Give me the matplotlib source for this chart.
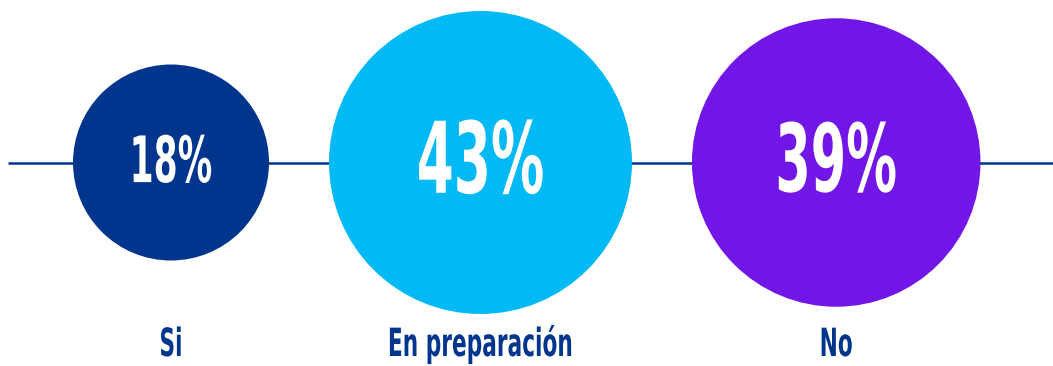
import numpy as np
import matplotlib
matplotlib.use("Agg")
import matplotlib.pyplot as plt
from matplotlib.patches import Circle
from matplotlib import font_manager, patheffects
from matplotlib.transforms import Affine2D

# survey answers
categories = ["Si", "En preparación", "No"]
values = [18, 43, 39]
colors = ["#00358E", "#00B9F5", "#7216E8"]
navy = "#00358E"


class Squeeze(patheffects.AbstractPathEffect):
    """Narrow the glyphs horizontally around a fixed x (display pixels)."""

    def __init__(self, sx, x0):
        super().__init__()
        self.sx = sx
        self.x0 = x0

    def draw_path(self, renderer, gc, tpath, affine, rgbFace=None):
        t = affine + Affine2D().translate(-self.x0, 0).scale(self.sx, 1).translate(self.x0, 0)
        renderer.draw_path(gc, tpath, t, rgbFace)


# pick the narrowest family that is installed
installed = {f.name for f in font_manager.fontManager.ttflist}
family = "DejaVu Sans"
for cand in ["Liberation Sans Narrow", "DejaVu Sans"]:
    if cand in installed:
        family = cand
        break

W, H = 1053, 366
fig = plt.figure(figsize=(W / 100, H / 100), dpi=100)
ax = fig.add_axes([0, 0, 1, 1])
ax.set_xlim(0, W)
ax.set_ylim(H, 0)
ax.set_aspect("equal")
ax.axis("off")

# circle area is proportional to the share
scale = 23.1
radii = scale * np.sqrt(values)
gap = 60
left = 73
centers = []
x = left
for i, r in enumerate(radii):
    if i > 0:
        x += radii[i - 1] + gap + r
    else:
        x += r
    centers.append(x)
cy = 162.5

ax.plot([8, W], [cy, cy], color=navy, lw=1.8, solid_capstyle="butt", zorder=1)

font = dict(fontweight="bold", fontstretch="condensed", family=[family, "DejaVu Sans"])
for cx, r, v, c, name in zip(centers, radii, values, colors, categories):
    ax.add_patch(Circle((cx, cy), r, facecolor=c, edgecolor="none", zorder=2))
    px = ax.transData.transform((cx, cy))[0]
    ax.text(cx, cy + 0.2 * r, "{}%".format(v), color="white",
            fontsize=0.47 * r, ha="center", va="baseline", zorder=3,
            path_effects=[Squeeze(0.6, px)], **font)
    ax.text(cx, 356, name, color=navy, fontsize=28,
            ha="center", va="baseline", zorder=3,
            path_effects=[Squeeze(0.62, px)], **font)

fig.savefig("out.png", dpi=100)
